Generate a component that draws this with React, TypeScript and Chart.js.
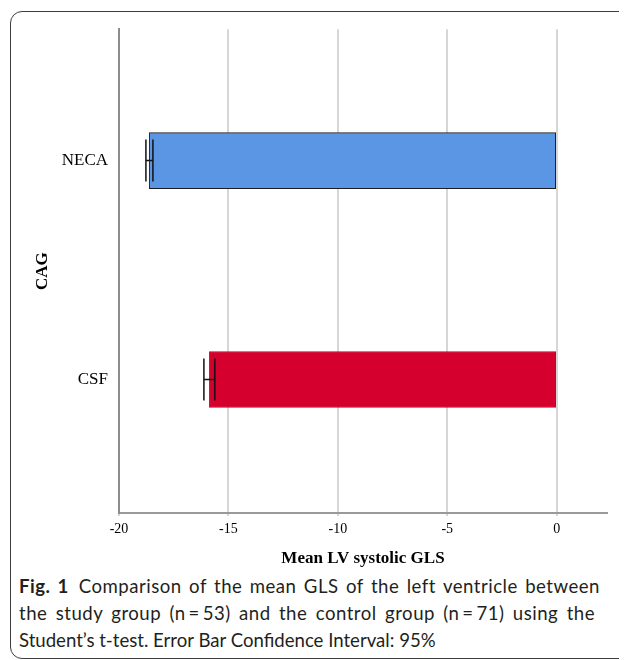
import React, { useEffect, useRef } from 'react';
import { Chart, registerables } from 'chart.js';

Chart.register(...registerables);

// ---- data ----
const categories = ['NECA', 'CSF'];
const categoryPositions = [1, 0];
const meanGLS = [-18.62, -15.87];
const ciLower = [-18.77, -16.12];
const ciUpper = [-18.45, -15.62];
const xTickValues = [-20, -15, -10, -5, 0];
const barColors = ['#5a96e3', '#d6002f'];
const barBorders = ['#1e1e1e', '#c4002b'];

const serif = "'Liberation Serif', 'Times New Roman', serif";

const errorBarPlugin = {
  id: 'errorBars',
  afterDatasetsDraw(chart: any) {
    const { ctx, scales } = chart;
    const x = scales.x;
    const y = scales.y;
    ctx.save();
    ctx.strokeStyle = '#111';
    ctx.lineWidth = 1.5;
    categories.forEach((_, i) => {
      const yc = y.getPixelForValue(categoryPositions[i]);
      const x1 = x.getPixelForValue(ciLower[i]);
      const x2 = x.getPixelForValue(ciUpper[i]);
      const h = 21;
      ctx.beginPath();
      ctx.moveTo(x1, yc - h);
      ctx.lineTo(x1, yc + h);
      ctx.moveTo(x2, yc - h);
      ctx.lineTo(x2, yc + h);
      ctx.moveTo(x1, yc);
      ctx.lineTo(x2, yc);
      ctx.stroke();
    });
    ctx.restore();
  },
};

export default function App() {
  const canvasRef = useRef<HTMLCanvasElement | null>(null);

  useEffect(() => {
    document.documentElement.style.overflow = 'hidden';
    const canvas = canvasRef.current;
    if (!canvas) return;
    const chart = new Chart(canvas, {
      type: 'bar',
      data: {
        datasets: [
          {
            data: categories.map((c, i) => ({ x: meanGLS[i], y: categoryPositions[i] })) as any,
            backgroundColor: barColors,
            borderColor: barBorders,
            borderWidth: 1,
            barThickness: 56,
            borderSkipped: false,
          } as any,
        ],
      },
      options: {
        indexAxis: 'y',
        animation: false,
        responsive: false,
        devicePixelRatio: 1,
        layout: { padding: { top: 19, right: 20, left: 0, bottom: 0 } },
        plugins: { legend: { display: false }, tooltip: { enabled: false } },
        scales: {
          x: {
            type: 'linear',
            min: -20,
            max: 2.3,
            offset: false,
            afterBuildTicks: (s: any) => {
              s.ticks = xTickValues.map((v) => ({ value: v }));
            },
            afterFit: (s: any) => {
              s.height = 60;
            },
            grid: {
              display: true,
              color: '#d6d6d6',
              lineWidth: 2,
              drawTicks: true,
              tickLength: 3,
              offset: false,
            },
            border: { display: true, color: '#9a9a9a', width: 2 },
            ticks: {
              color: '#000',
              padding: 5,
              font: { family: serif, size: 14 },
              maxRotation: 0,
              callback: (v: any) => String(v),
            },
            title: {
              display: true,
              text: 'Mean LV systolic GLS',
              color: '#000',
              font: { family: serif, size: 17, weight: 'bold' },
              padding: { top: 0, bottom: 4 },
            },
          },
          y: {
            type: 'linear',
            min: -0.61,
            max: 1.6,
            offset: false,
            afterBuildTicks: (s: any) => {
              s.ticks = categoryPositions.map((v) => ({ value: v }));
            },
            afterFit: (s: any) => {
              s.width = 111;
            },
            grid: { display: false, drawTicks: false, offset: false },
            border: { display: true, color: '#8c8c8c', width: 2 },
            ticks: {
              color: '#000',
              padding: 11,
              font: { family: serif, size: 17 },
              callback: (v: any) => {
                const idx = categoryPositions.indexOf(v);
                return idx >= 0 ? categories[idx] : '';
              },
            },
            title: {
              display: true,
              text: 'CAG',
              color: '#000',
              font: { family: serif, size: 17, weight: 'bold' },
              padding: { top: 24, bottom: 0 },
            },
          },
        },
      } as any,
      plugins: [errorBarPlugin],
    });
    return () => {
      chart.destroy();
    };
  }, []);

  const captionFont = "Lato, 'Noto Sans', sans-serif";
  const lineStyle: React.CSSProperties = {
    position: 'absolute',
    left: 11,
    whiteSpace: 'nowrap',
    fontFamily: captionFont,
    fontSize: 18.6,
    lineHeight: '27px',
    color: '#231f20',
  };
  const justified: React.CSSProperties = {
    width: 581,
    whiteSpace: 'normal',
    textAlign: 'justify',
    textAlignLast: 'justify' as any,
    letterSpacing: '0.5px',
    height: 27,
    overflow: 'hidden',
  };

  return (
    <div style={{ position: 'relative', width: 619, height: 652, overflow: 'hidden' }}>
      <div
        style={{
          position: 'absolute',
          left: 2,
          top: 3,
          width: 720,
          height: 648,
          border: '1px solid #3c3c3c',
          borderRadius: 12,
          boxSizing: 'border-box',
        }}
      />
      <div style={{ position: 'absolute', left: 0, top: 0, width: 619, height: 565 }}>
        <canvas ref={canvasRef} width={619} height={565} style={{ display: 'block' }} />
      </div>
      <div style={{ ...lineStyle, ...justified, top: 565 }}>
        <b>Fig. 1</b>
        {'\u2002Comparison of the mean GLS of the left ventricle between'}
      </div>
      <div style={{ ...lineStyle, ...justified, width: 576, top: 592 }}>
        {'the study group (n\u2009=\u200953) and the control group (n\u2009=\u200971) using the'}
      </div>
      <div style={{ ...lineStyle, top: 619 }}>
        {'Student\u2019s t-test. Error Bar Confidence Interval: 95%'}
      </div>
    </div>
  );
}
